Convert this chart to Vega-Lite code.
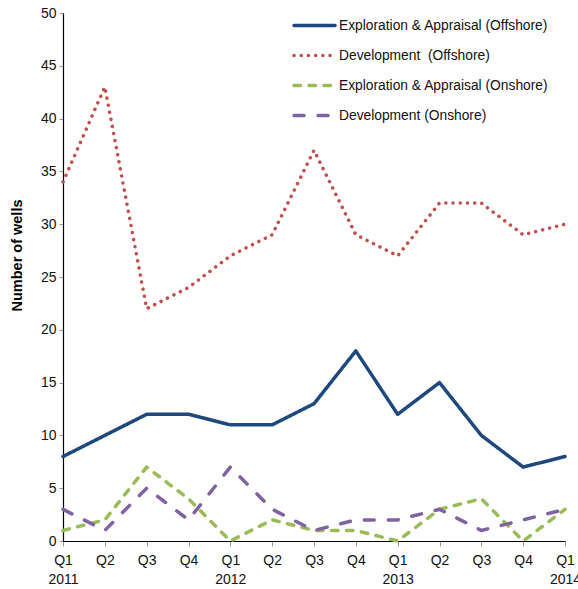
{
  "$schema": "https://vega.github.io/schema/vega-lite/v6.json",
  "width": 502,
  "height": 528,
  "autosize": {"type": "none"},
  "padding": {"left": 63, "top": 13, "right": 13, "bottom": 48},
  "background": "white",
  "config": {
    "view": {"stroke": null},
    "font": "Liberation Sans, Arial, sans-serif"
  },
  "data": {
    "values": [
      {"period": "2011-Q1", "series": "Exploration & Appraisal (Offshore)", "wells": 8},
      {"period": "2011-Q2", "series": "Exploration & Appraisal (Offshore)", "wells": 10},
      {"period": "2011-Q3", "series": "Exploration & Appraisal (Offshore)", "wells": 12},
      {"period": "2011-Q4", "series": "Exploration & Appraisal (Offshore)", "wells": 12},
      {"period": "2012-Q1", "series": "Exploration & Appraisal (Offshore)", "wells": 11},
      {"period": "2012-Q2", "series": "Exploration & Appraisal (Offshore)", "wells": 11},
      {"period": "2012-Q3", "series": "Exploration & Appraisal (Offshore)", "wells": 13},
      {"period": "2012-Q4", "series": "Exploration & Appraisal (Offshore)", "wells": 18},
      {"period": "2013-Q1", "series": "Exploration & Appraisal (Offshore)", "wells": 12},
      {"period": "2013-Q2", "series": "Exploration & Appraisal (Offshore)", "wells": 15},
      {"period": "2013-Q3", "series": "Exploration & Appraisal (Offshore)", "wells": 10},
      {"period": "2013-Q4", "series": "Exploration & Appraisal (Offshore)", "wells": 7},
      {"period": "2014-Q1", "series": "Exploration & Appraisal (Offshore)", "wells": 8},
      {"period": "2011-Q1", "series": "Development \u00a0(Offshore)", "wells": 34},
      {"period": "2011-Q2", "series": "Development \u00a0(Offshore)", "wells": 43},
      {"period": "2011-Q3", "series": "Development \u00a0(Offshore)", "wells": 22},
      {"period": "2011-Q4", "series": "Development \u00a0(Offshore)", "wells": 24},
      {"period": "2012-Q1", "series": "Development \u00a0(Offshore)", "wells": 27},
      {"period": "2012-Q2", "series": "Development \u00a0(Offshore)", "wells": 29},
      {"period": "2012-Q3", "series": "Development \u00a0(Offshore)", "wells": 37},
      {"period": "2012-Q4", "series": "Development \u00a0(Offshore)", "wells": 29},
      {"period": "2013-Q1", "series": "Development \u00a0(Offshore)", "wells": 27},
      {"period": "2013-Q2", "series": "Development \u00a0(Offshore)", "wells": 32},
      {"period": "2013-Q3", "series": "Development \u00a0(Offshore)", "wells": 32},
      {"period": "2013-Q4", "series": "Development \u00a0(Offshore)", "wells": 29},
      {"period": "2014-Q1", "series": "Development \u00a0(Offshore)", "wells": 30},
      {"period": "2011-Q1", "series": "Exploration & Appraisal (Onshore)", "wells": 1},
      {"period": "2011-Q2", "series": "Exploration & Appraisal (Onshore)", "wells": 2},
      {"period": "2011-Q3", "series": "Exploration & Appraisal (Onshore)", "wells": 7},
      {"period": "2011-Q4", "series": "Exploration & Appraisal (Onshore)", "wells": 4},
      {"period": "2012-Q1", "series": "Exploration & Appraisal (Onshore)", "wells": 0},
      {"period": "2012-Q2", "series": "Exploration & Appraisal (Onshore)", "wells": 2},
      {"period": "2012-Q3", "series": "Exploration & Appraisal (Onshore)", "wells": 1},
      {"period": "2012-Q4", "series": "Exploration & Appraisal (Onshore)", "wells": 1},
      {"period": "2013-Q1", "series": "Exploration & Appraisal (Onshore)", "wells": 0},
      {"period": "2013-Q2", "series": "Exploration & Appraisal (Onshore)", "wells": 3},
      {"period": "2013-Q3", "series": "Exploration & Appraisal (Onshore)", "wells": 4},
      {"period": "2013-Q4", "series": "Exploration & Appraisal (Onshore)", "wells": 0},
      {"period": "2014-Q1", "series": "Exploration & Appraisal (Onshore)", "wells": 3},
      {"period": "2011-Q1", "series": "Development (Onshore)", "wells": 3},
      {"period": "2011-Q2", "series": "Development (Onshore)", "wells": 1},
      {"period": "2011-Q3", "series": "Development (Onshore)", "wells": 5},
      {"period": "2011-Q4", "series": "Development (Onshore)", "wells": 2},
      {"period": "2012-Q1", "series": "Development (Onshore)", "wells": 7},
      {"period": "2012-Q2", "series": "Development (Onshore)", "wells": 3},
      {"period": "2012-Q3", "series": "Development (Onshore)", "wells": 1},
      {"period": "2012-Q4", "series": "Development (Onshore)", "wells": 2},
      {"period": "2013-Q1", "series": "Development (Onshore)", "wells": 2},
      {"period": "2013-Q2", "series": "Development (Onshore)", "wells": 3},
      {"period": "2013-Q3", "series": "Development (Onshore)", "wells": 1},
      {"period": "2013-Q4", "series": "Development (Onshore)", "wells": 2},
      {"period": "2014-Q1", "series": "Development (Onshore)", "wells": 3}
    ]
  },
  "mark": {"type": "line", "strokeWidth": 3.5, "strokeCap": "round", "strokeJoin": "round"},
  "encoding": {
    "x": {
      "field": "period",
      "type": "ordinal",
      "scale": {"type": "point", "padding": 0},
      "axis": {
        "title": null,
        "labelAngle": 0,
        "labelFontSize": 14,
        "labelColor": "#111111",
        "labelLineHeight": 19,
        "labelPadding": 7,
        "tickSize": 5,
        "tickColor": "#999999",
        "domainColor": "#000000",
        "domainWidth": 1.2,
        "grid": false,
        "labelExpr": "slice(datum.value,5)=='Q1' ? [slice(datum.value,5), slice(datum.value,0,4)] : slice(datum.value,5)"
      }
    },
    "y": {
      "field": "wells",
      "type": "quantitative",
      "scale": {"domain": [0, 50], "nice": false},
      "axis": {
        "title": "Number of wells",
        "titleFontSize": 14.5,
        "titleFontWeight": "bold",
        "titleColor": "#000000",
        "titleX": -46,
        "titleY": 242,
        "titleAngle": -90,
        "titleAlign": "center",
        "titleBaseline": "middle",
        "values": [0, 5, 10, 15, 20, 25, 30, 35, 40, 45, 50],
        "labelFontSize": 14,
        "labelColor": "#111111",
        "labelPadding": 3,
        "tickSize": 4,
        "tickColor": "#999999",
        "domainColor": "#000000",
        "domainWidth": 1.2,
        "grid": false
      }
    },
    "color": {
      "field": "series",
      "type": "nominal",
      "sort": ["Exploration & Appraisal (Offshore)", "Development \u00a0(Offshore)", "Exploration & Appraisal (Onshore)", "Development (Onshore)"],
      "scale": {
        "domain": ["Exploration & Appraisal (Offshore)", "Development \u00a0(Offshore)", "Exploration & Appraisal (Onshore)", "Development (Onshore)"],
        "range": ["#1f497d", "#c0504d", "#9bbb59", "#8064a2"]
      },
      "legend": {
        "title": null,
        "orient": "none",
        "legendX": 229,
        "legendY": -10,
        "symbolType": "stroke",
        "symbolSize": 1681,
        "symbolStrokeWidth": 3.5,
        "labelFontSize": 13.8,
        "labelColor": "#111111",
        "labelLimit": 400,
        "rowPadding": -14,
        "labelOffset": 2,
        "encode": {"symbols": {"update": {"strokeCap": {"value": "round"}}}}
      }
    },
    "strokeDash": {
      "field": "series",
      "type": "nominal",
      "sort": ["Exploration & Appraisal (Offshore)", "Development \u00a0(Offshore)", "Exploration & Appraisal (Onshore)", "Development (Onshore)"],
      "scale": {
        "domain": ["Exploration & Appraisal (Offshore)", "Development \u00a0(Offshore)", "Exploration & Appraisal (Onshore)", "Development (Onshore)"],
        "range": [[1, 0], [0.1, 7.1], [6.5, 8.5], [10, 14]]
      },
      "legend": null
    }
  }
}
